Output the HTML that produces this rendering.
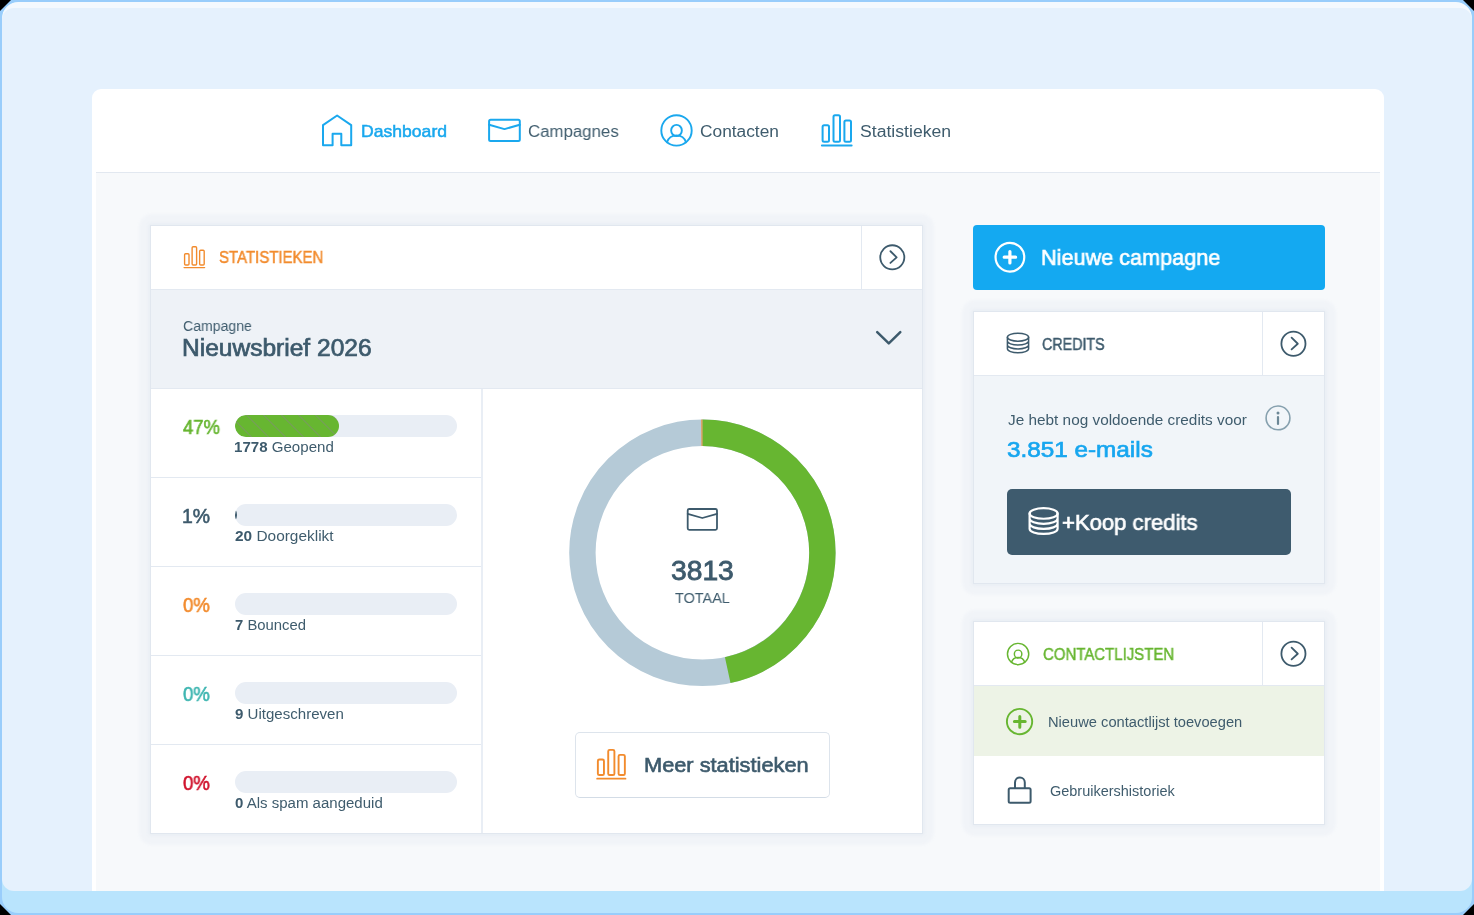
<!DOCTYPE html>
<html><head><meta charset="utf-8">
<style>
html,body{margin:0;padding:0;width:1474px;height:915px;overflow:hidden;background:#000;}
body{position:relative;font-family:"Liberation Sans",sans-serif;}
.a{position:absolute;}
.t{position:absolute;white-space:nowrap;transform-origin:0 0;will-change:transform;font-family:"Liberation Sans",sans-serif;}
.t b{font-weight:700;}
svg{position:absolute;overflow:visible;}
.frame{left:0;top:0;width:1474px;height:915px;background:#99cdfb;clip-path:polygon(11px 0,1463px 0,1474px 11px,1474px 904px,1463px 915px,11px 915px,0 904px,0 11px);}
.inner{left:2px;top:2px;width:1470px;height:911px;border-radius:16px;background:#b9e4fd;overflow:hidden;}
.topband{left:0;top:0;width:1470px;height:40px;background:#f4f9fe;border-radius:16px 16px 0 0;}
.fill{left:0;top:6px;width:1470px;height:883px;background:#e5f1fd;border-radius:12px;}
.panel{left:92px;top:89px;width:1292px;height:802px;background:#fff;border-radius:9px 9px 0 0;}
.navline{left:96px;top:172px;width:1284px;height:1px;background:#e2e8f0;}
.bodybg{left:96px;top:173px;width:1284px;height:718px;background:#f7f9fb;}
.card{background:#fff;box-sizing:border-box;border:1px solid #e1e7ef;box-shadow:0 0 4px 1px rgba(120,150,185,.08);}
.hl{background:#e3e9f1;height:1px;}
.vl{background:#e3e9f1;width:1px;}
.sh{position:absolute;border-radius:13px;background:rgba(120,150,185,.045);filter:blur(1.5px);}
.bar{height:22px;border-radius:11px;background:#e9eef5;width:222px;overflow:hidden;}
</style></head><body>
<div class="a frame"></div>
<div class="a inner">
  <div class="a topband"></div>
  <div class="a fill"></div>
</div>
<div class="a panel"></div>
<div class="a navline"></div>
<div class="a bodybg"></div>

<!-- NAV ICONS -->
<svg style="left:0;top:0" width="1474" height="915" viewBox="0 0 1474 915" fill="none" stroke-linejoin="round" stroke-linecap="round">
  <g stroke="#1aa8ee" stroke-width="2">
    <path d="M332.6 145.2 V133.8 H341.3 V145.2 H351.2 V125.1 L337.1 115.5 L323 125.1 V145.2 Z"/>
    <rect x="489.1" y="119.7" width="30.7" height="21.3" rx="1.5"/>
    <polyline points="489.1,124.8 504.5,129.1 519.8,124.8"/>
    <circle cx="676.5" cy="130.4" r="15.2" stroke-width="1.9"/>
    <ellipse cx="676.5" cy="130.5" rx="5.35" ry="5.65" stroke-width="1.9"/>
    <path d="M667.0 142.3 A10 10 0 0 1 686.0 142.3" stroke-width="1.9"/>
  </g>
</svg>
<div class="a" style="left:0;top:0;width:0;height:0">
</div>
<!--CARDS-->
<div class="sh" style="left:139px;top:214px;width:795px;height:631px"></div>
<div class="sh" style="left:962px;top:300px;width:374px;height:295px"></div>
<div class="sh" style="left:962px;top:610px;width:374px;height:226px"></div>
<div class="a card" style="left:150px;top:225px;width:773px;height:609px"></div>
<div class="a hl" style="left:151px;top:289px;width:771px"></div>
<div class="a vl" style="left:861px;top:226px;height:63px"></div>
<div class="a" style="left:151px;top:290px;width:771px;height:98px;background:#eef2f7"></div>
<div class="a hl" style="left:151px;top:388px;width:771px"></div>
<div class="a" style="left:481px;top:389px;width:2px;height:444px;background:#e9eef5"></div>
<div class="a hl" style="left:151px;top:477px;width:330px"></div>
<div class="a hl" style="left:151px;top:566px;width:330px"></div>
<div class="a hl" style="left:151px;top:655px;width:330px"></div>
<div class="a hl" style="left:151px;top:744px;width:330px"></div>

<div class="a bar" style="left:234.5px;top:415px"><div style="width:104.5px;height:22px;border-radius:11px;background:#67b631 repeating-linear-gradient(45deg, rgba(130,140,120,0) 0px, rgba(130,140,120,0) 10.9px, rgba(130,140,120,.45) 10.9px, rgba(130,140,120,.45) 12.2px)"></div></div>
<div class="a bar" style="left:234.5px;top:504px"><div style="width:22px;height:22px;border-radius:11px;margin-left:-19.5px;background:#3d5a6c"></div></div>
<div class="a bar" style="left:234.5px;top:593px"></div>
<div class="a bar" style="left:234.5px;top:682px"></div>
<div class="a bar" style="left:234.5px;top:771px"></div>

<div class="a" style="left:575px;top:732px;width:255px;height:66px;box-sizing:border-box;border:1px solid #dde4ec;border-bottom-color:#d3dce6;border-radius:5px;background:#fff"></div>

<div class="a" style="left:973px;top:225px;width:352px;height:65px;border-radius:4px;background:#14a9f1"></div>

<div class="a card" style="left:973px;top:311px;width:352px;height:273px;background:#f1f5f9"></div>
<div class="a" style="left:974px;top:312px;width:350px;height:63px;background:#fff"></div>
<div class="a hl" style="left:974px;top:375px;width:350px"></div>
<div class="a vl" style="left:1262px;top:312px;height:63px"></div>
<div class="a" style="left:1007px;top:489px;width:284px;height:66px;border-radius:5px;background:#3e5b6e"></div>

<div class="a card" style="left:973px;top:621px;width:352px;height:204px"></div>
<div class="a hl" style="left:974px;top:685px;width:350px"></div>
<div class="a vl" style="left:1262px;top:622px;height:63px"></div>
<div class="a" style="left:974px;top:686px;width:350px;height:70px;background:#edf3e6"></div>

<svg style="left:0;top:0" width="1474" height="915" viewBox="0 0 1474 915" fill="none" stroke-linejoin="round" stroke-linecap="round">
  <defs>
    <g id="stats">
      <rect x="2.6" y="12.3" width="6.4" height="16.4" rx="1.5"/>
      <rect x="13.5" y="2.2" width="6.5" height="26.5" rx="1.5"/>
      <rect x="24.4" y="7.4" width="6.6" height="21.3" rx="1.5"/>
      <line x1="1.9" y1="32.5" x2="31.6" y2="32.5"/>
    </g>
    <g id="coins">
      <ellipse cx="0" cy="0" rx="10.6" ry="4"/>
      <path d="M-10.6 0 V11.55 M10.6 0 V11.55 M-10.6 3.85 A10.6 4 0 0 0 10.6 3.85 M-10.6 7.7 A10.6 4 0 0 0 10.6 7.7 M-10.6 11.55 A10.6 4 0 0 0 10.6 11.55"/>
    </g>
    <g id="carrow">
      <circle cx="0" cy="0" r="12.05" stroke-width="1.8"/>
      <polyline points="-1.85,-6.05 4.35,0 -1.85,5.65" stroke-width="1.8"/>
    </g>
    <g id="contact">
      <circle cx="0" cy="0" r="15.2"/>
      <ellipse cx="0" cy="0.1" rx="5.35" ry="5.65"/>
      <path d="M-9.5 11.9 A10 10 0 0 1 9.5 11.9"/>
    </g>
  </defs>
  <use href="#stats" transform="translate(820 113)" stroke="#1aa8ee" stroke-width="2"/>
  <use href="#stats" transform="translate(182.8 245.2) scale(0.69)" stroke="#f28b2d" stroke-width="2"/>
  <use href="#stats" transform="translate(595.4 747.8) scale(0.95)" stroke="#f28b2d" stroke-width="2"/>
  <use href="#carrow" transform="translate(892.3 257.3)" stroke="#3d5a6c"/>
  <use href="#carrow" transform="translate(1293.45 343.75)" stroke="#3d5a6c"/>
  <use href="#carrow" transform="translate(1293.45 653.75)" stroke="#3d5a6c"/>
  <polyline points="877.2,332.1 888.8,343.4 900.3,332.1" stroke="#3d5a6c" stroke-width="2.5"/>
  <use href="#coins" transform="translate(1018 337.2)" stroke="#3d5a6c" stroke-width="1.5"/>
  <use href="#coins" transform="translate(1043.6 513.45) scale(1.32)" stroke="#fff" stroke-width="1.67"/>
  <use href="#contact" transform="translate(1018.1 654) scale(0.70)" stroke="#67b631" stroke-width="2.1"/>
  <!-- envelope donut -->
  <rect x="687.7" y="509" width="29.3" height="20.8" rx="1.5" stroke="#3d5a6c" stroke-width="1.8"/>
  <polyline points="687.7,513.8 702.3,518 717,513.8" stroke="#3d5a6c" stroke-width="1.8"/>
  <!-- plus circles -->
  <circle cx="1009.9" cy="257.2" r="14.35" stroke="#fff" stroke-width="2.2"/>
  <path d="M1004.2 257.2 H1015.6 M1009.9 251.5 V262.9" stroke="#fff" stroke-width="3.2"/>
  <circle cx="1019.55" cy="721.55" r="12.65" stroke="#67b631" stroke-width="1.9"/>
  <path d="M1014.4 721.5 H1025.2 M1019.8 716.4 V727.2" stroke="#67b631" stroke-width="3"/>
  <!-- info -->
  <circle cx="1278" cy="417.9" r="11.9" stroke="#86a0ae" stroke-width="1.6"/>
  <circle cx="1278" cy="412.9" r="1.5" fill="#6c8796" stroke="none"/>
  <line x1="1278" y1="417" x2="1278" y2="424" stroke="#6c8796" stroke-width="2.2"/>
  <!-- lock -->
  <rect x="1008.7" y="788.2" width="21.9" height="14.5" rx="1.5" stroke="#3d5a6c" stroke-width="2"/>
  <path d="M1015 788 V782.4 A4.9 4.9 0 0 1 1024.8 782.4 V788" stroke="#3d5a6c" stroke-width="2"/>
  <!-- donut -->
  <g transform="translate(702.4 552.8) rotate(-90)">
    <circle cx="0" cy="0" r="120.0" stroke="#b5cad7" stroke-width="26.4"/>
    <circle cx="0" cy="0" r="120.0" stroke="#67b631" stroke-width="26.4" stroke-linecap="butt" stroke-dasharray="351.3 1000"/>
    <circle cx="0" cy="0" r="120.0" stroke="#f28b2d" stroke-width="26.4" stroke-linecap="butt" stroke-dasharray="0 752.7 1.9 10"/>
  </g>
</svg>
<div class="t" style="left:360.76px;top:110.80px;font-size:16.96px;font-weight:400;-webkit-text-stroke:0.51px #19a8ee;color:#19a8ee;line-height:42px;transform:scaleX(1.0383)">Dashboard</div>
<div class="t" style="left:528.02px;top:109.80px;font-size:17.25px;font-weight:400;;color:#3f5c6d;line-height:43px;transform:scaleX(0.9750)">Campagnes</div>
<div class="t" style="left:700.00px;top:109.80px;font-size:17.25px;font-weight:400;;color:#3f5c6d;line-height:43px;transform:scaleX(1.0039)">Contacten</div>
<div class="t" style="left:860.38px;top:109.80px;font-size:17.25px;font-weight:400;;color:#3f5c6d;line-height:43px;transform:scaleX(1.0218)">Statistieken</div>
<div class="t" style="left:219.00px;top:238.30px;font-size:15.8px;font-weight:400;-webkit-text-stroke:0.47px #f28b2d;color:#f28b2d;line-height:39px;transform:scaleX(0.9486)">STATISTIEKEN</div>
<div class="t" style="left:182.80px;top:307.00px;font-size:15.07px;font-weight:400;;color:#3f5c6d;line-height:37px;transform:scaleX(0.9342)">Campagne</div>
<div class="t" style="left:182.29px;top:318.20px;font-size:24.2px;font-weight:400;-webkit-text-stroke:0.73px #3d5a6c;color:#3d5a6c;line-height:60px;transform:scaleX(1.0145)">Nieuwsbrief 2026</div>
<div class="t" style="left:670.65px;top:538.00px;font-size:26.81px;font-weight:400;-webkit-text-stroke:0.80px #3d5a6c;color:#3d5a6c;line-height:67px;transform:scaleX(1.0534)">3813</div>
<div class="t" style="left:675.10px;top:579.30px;font-size:15.51px;font-weight:400;;color:#3f5c6d;line-height:38px;transform:scaleX(0.9305)">TOTAAL</div>
<div class="t" style="left:643.74px;top:739.20px;font-size:20.58px;font-weight:400;-webkit-text-stroke:0.62px #3d5a6c;color:#3d5a6c;line-height:51px;transform:scaleX(1.0584)">Meer statistieken</div>
<div class="t" style="left:1040.57px;top:230.30px;font-size:22.46px;font-weight:400;-webkit-text-stroke:0.67px #ffffff;color:#ffffff;line-height:56px;transform:scaleX(0.9645)">Nieuwe campagne</div>
<div class="t" style="left:1042.30px;top:325.20px;font-size:15.94px;font-weight:400;-webkit-text-stroke:0.48px #3d5a6c;color:#3d5a6c;line-height:39px;transform:scaleX(0.8957)">CREDITS</div>
<div class="t" style="left:1007.60px;top:401.80px;font-size:14.49px;font-weight:400;;color:#3f5c6d;line-height:36px;transform:scaleX(1.0593)">Je hebt nog voldoende credits voor</div>
<div class="t" style="left:1006.50px;top:421.80px;font-size:22.17px;font-weight:400;-webkit-text-stroke:0.67px #17a6ef;color:#17a6ef;line-height:55px;transform:scaleX(1.0962)">3.851 e-mails</div>
<div class="t" style="left:1061.90px;top:494.70px;font-size:22.17px;font-weight:400;-webkit-text-stroke:0.67px #ffffff;color:#ffffff;line-height:55px;transform:scaleX(0.9963)">+Koop credits</div>
<div class="t" style="left:1042.70px;top:634.60px;font-size:15.94px;font-weight:400;-webkit-text-stroke:0.48px #67b631;color:#67b631;line-height:39px;transform:scaleX(0.9396)">CONTACTLIJSTEN</div>
<div class="t" style="left:1047.99px;top:704.20px;font-size:14.49px;font-weight:400;;color:#3f5c6d;line-height:36px;transform:scaleX(1.0137)">Nieuwe contactlijst toevoegen</div>
<div class="t" style="left:1049.70px;top:773.60px;font-size:14.2px;font-weight:400;;color:#3f5c6d;line-height:35px;transform:scaleX(1.0205)">Gebruikershistoriek</div>
<div class="t" style="left:182.80px;top:402.50px;font-size:19.42px;font-weight:400;-webkit-text-stroke:0.58px #67b631;color:#67b631;line-height:48px;transform:scaleX(0.9538)">47%</div>
<div class="t" style="left:234.33px;top:429.80px;font-size:14.06px;font-weight:400;;color:#3f5c6d;line-height:35px;transform:scaleX(1.0739)"><b style="color:#3d5a6c">1778</b> Geopend</div>
<div class="t" style="left:181.81px;top:491.50px;font-size:19.42px;font-weight:400;-webkit-text-stroke:0.58px #3d5a6c;color:#3d5a6c;line-height:48px;transform:scaleX(0.9852)">1%</div>
<div class="t" style="left:235.40px;top:518.80px;font-size:14.06px;font-weight:400;;color:#3f5c6d;line-height:35px;transform:scaleX(1.0978)"><b style="color:#3d5a6c">20</b> Doorgeklikt</div>
<div class="t" style="left:182.80px;top:580.50px;font-size:19.42px;font-weight:400;-webkit-text-stroke:0.58px #f28b2d;color:#f28b2d;line-height:48px;transform:scaleX(0.9571)">0%</div>
<div class="t" style="left:235.40px;top:607.80px;font-size:14.06px;font-weight:400;;color:#3f5c6d;line-height:35px;transform:scaleX(1.0582)"><b style="color:#3d5a6c">7</b> Bounced</div>
<div class="t" style="left:182.80px;top:669.50px;font-size:19.42px;font-weight:400;-webkit-text-stroke:0.58px #3db5b0;color:#3db5b0;line-height:48px;transform:scaleX(0.9571)">0%</div>
<div class="t" style="left:235.40px;top:696.80px;font-size:14.06px;font-weight:400;;color:#3f5c6d;line-height:35px;transform:scaleX(1.0723)"><b style="color:#3d5a6c">9</b> Uitgeschreven</div>
<div class="t" style="left:182.80px;top:758.50px;font-size:19.42px;font-weight:400;-webkit-text-stroke:0.58px #d0112b;color:#d0112b;line-height:48px;transform:scaleX(0.9571)">0%</div>
<div class="t" style="left:235.40px;top:785.80px;font-size:14.06px;font-weight:400;;color:#3f5c6d;line-height:35px;transform:scaleX(1.0688)"><b style="color:#3d5a6c">0</b> Als spam aangeduid</div>
</body></html>
